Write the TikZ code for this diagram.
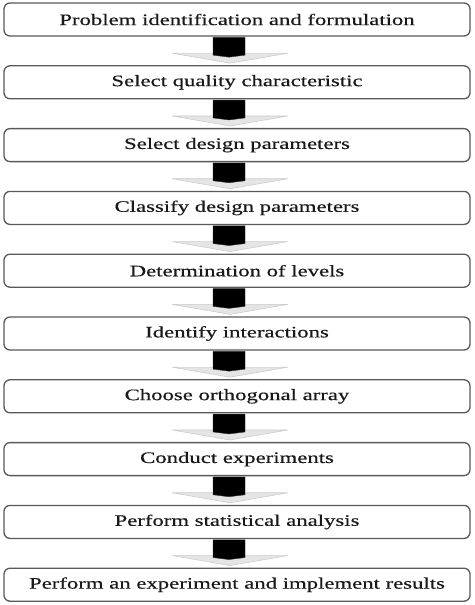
\documentclass[tikz,border=0pt]{standalone}
\usepackage{fontspec}
\setmainfont{Liberation Serif}[FakeStretch=1.42,FakeBold=0.4]
\usetikzlibrary{calc}
\tikzset{
  stepbox/.style={draw=black!65, line width=1.3pt, rounded corners=6pt, fill=white,
    minimum width=466pt, minimum height=33pt, inner sep=0pt,
    font=\fontsize{16}{19}\selectfont, text=black!90},
  headfill/.style={fill=gray!20, draw=gray!40, line width=0.6pt},
  shaftfill/.style={fill=black, draw=black!80, line width=0.4pt}
}
\begin{document}
\begin{tikzpicture}[x=1pt,y=1pt]
\useasboundingbox (0,0) rectangle (474,-605);
\foreach \i/\t in {0/Problem identification and formulation,
                   1/Select quality characteristic,
                   2/Select design parameters,
                   3/Classify design parameters,
                   4/Determination of levels,
                   5/Identify interactions,
                   6/Choose orthogonal array,
                   7/Conduct experiments,
                   8/Perform statistical analysis,
                   9/Perform an experiment and implement results}
{
  \node[stepbox] (b\i) at (237,{-(19.5+62.8*\i)}) {\t};
}
\foreach \i [evaluate=\i as \j using int(\i+1)] in {0,...,8}
{
  \fill[headfill] ($(b\j.north)+(-65,12)$) -- ($(b\j.north)+(51,12)$)
     -- ($(b\j.north)+(-7,2)$) -- cycle;
  \filldraw[shaftfill] ($(b\i.south)+(-24,-0.7)$) -- ($(b\i.south)+(8,-0.7)$)
     -- ($(b\j.north)+(8,10)$) -- ($(b\j.north)+(-8,8)$)
     -- ($(b\j.north)+(-24,10)$) -- cycle;
}
\end{tikzpicture}
\end{document}
